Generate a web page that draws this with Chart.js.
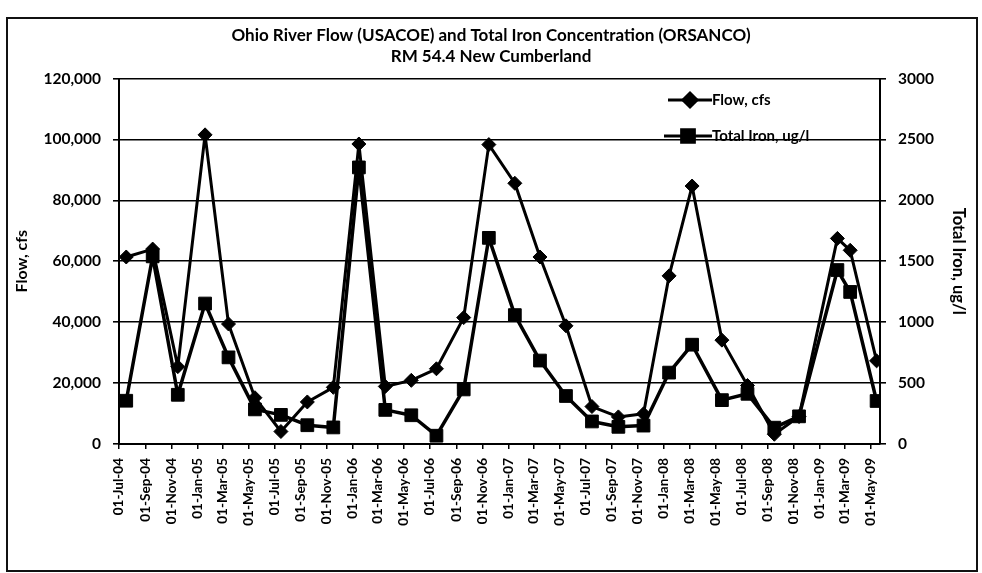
<!DOCTYPE html>
<html>
<head>
<meta charset="utf-8">
<script src="https://cdn.jsdelivr.net/npm/chart.js@4"></script>
<style>
  html, body { margin: 0; padding: 0; background: #fff; }
  #wrap { width: 982px; height: 573px; position: relative; }
</style>
</head>
<body>
<div id="wrap"><canvas id="c" width="982" height="573"></canvas></div>
<script>
// ---- data ----
const tickLabels = ['01-Jul-04','01-Sep-04','01-Nov-04','01-Jan-05','01-Mar-05','01-May-05','01-Jul-05','01-Sep-05','01-Nov-05','01-Jan-06','01-Mar-06','01-May-06','01-Jul-06','01-Sep-06','01-Nov-06','01-Jan-07','01-Mar-07','01-May-07','01-Jul-07','01-Sep-07','01-Nov-07','01-Jan-08','01-Mar-08','01-May-08','01-Jul-08','01-Sep-08','01-Nov-08','01-Jan-09','01-Mar-09','01-May-09'];

const sampleDates = ['2004-07-18','2004-09-18','2004-11-16','2005-01-19','2005-03-15','2005-05-16','2005-07-16','2005-09-16','2005-11-16','2006-01-15','2006-03-18','2006-05-18','2006-07-16','2006-09-18','2006-11-16','2007-01-16','2007-03-16','2007-05-16','2007-07-16','2007-09-16','2007-11-14','2008-01-13','2008-03-07','2008-05-16','2008-07-15','2008-09-16','2008-11-13','2009-02-11','2009-03-13','2009-05-14'];

const flowCfs = [61400,64000,25400,101500,39400,15200,4100,13800,18600,98500,18900,20900,24700,41500,98300,85600,61400,38800,12300,8900,9900,55200,84700,34100,19200,3200,9000,67500,63600,27300];

const ironUgL = [355,1540,404,1153,711,284,239,154,136,2270,280,236,68,448,1692,1058,685,394,185,141,151,586,815,360,412,134,227,1428,1248,353];

const titleLines = ['Ohio River Flow (USACOE) and Total Iron Concentration (ORSANCO)', 'RM 54.4 New Cumberland'];
const seriesNames = ['Flow, cfs', 'Total Iron, ug/l'];
const axisRange = { startDate: '2004-07-01', endDate: '2009-05-22' };

// ---- helpers ----
const MONTHS = {Jan:0,Feb:1,Mar:2,Apr:3,May:4,Jun:5,Jul:6,Aug:7,Sep:8,Oct:9,Nov:10,Dec:11};
const isoDay = s => Date.UTC(+s.slice(0,4), +s.slice(5,7) - 1, +s.slice(8,10)) / 86400000;
const labelDay = s => { const p = s.split('-'); return Date.UTC(2000 + +p[2], MONTHS[p[1]], +p[0]) / 86400000; };
const tickDays = tickLabels.map(labelDay);

const FONT = 'Lato, "Open Sans", "DejaVu Sans", sans-serif';
Chart.defaults.font.family = FONT;
Chart.defaults.color = '#000';

const frame = {
  id: 'frame',
  beforeDraw(chart) {
    const ctx = chart.ctx;
    ctx.save();
    ctx.fillStyle = '#fff';
    ctx.fillRect(0, 0, chart.width, chart.height);
    ctx.strokeStyle = '#111';
    ctx.lineWidth = 2;
    ctx.strokeRect(7, 18, 970, 553);
    ctx.restore();
  }
};

const innerLegend = {
  id: 'innerLegend',
  afterDatasetsDraw(chart) {
    const ctx = chart.ctx;
    const items = [
      { y: 100, style: 'rectRot', r: 7, x0: 668, x1: 712, label: seriesNames[0] },
      { y: 136, style: 'rect', r: 9, x0: 664, x1: 712, label: seriesNames[1] }
    ];
    ctx.save();
    items.forEach(it => {
      ctx.strokeStyle = '#000';
      ctx.lineWidth = 3;
      ctx.beginPath();
      ctx.moveTo(it.x0, it.y);
      ctx.lineTo(it.x1, it.y);
      ctx.stroke();
      ctx.fillStyle = '#000';
      Chart.helpers.drawPoint(ctx, { pointStyle: it.style, radius: it.r, rotation: 0, borderWidth: 1 }, (it.x0 + it.x1) / 2, it.y);
      ctx.fill();
      ctx.font = 'bold 15px ' + FONT;
      ctx.textBaseline = 'middle';
      ctx.textAlign = 'left';
      ctx.fillText(it.label, it.x1, it.y);
    });
    ctx.restore();
  }
};

const points = (ys) => sampleDates.map((d, i) => ({ x: isoDay(d), y: ys[i] }));

new Chart(document.getElementById('c'), {
  type: 'line',
  data: {
    datasets: [
      {
        label: seriesNames[0],
        data: points(flowCfs),
        yAxisID: 'yFlow',
        borderColor: '#000',
        backgroundColor: '#000',
        borderWidth: 3,
        borderJoinStyle: 'round',
        borderCapStyle: 'round',
        pointStyle: 'rectRot',
        pointRadius: 7,
        pointBorderWidth: 1,
        tension: 0
      },
      {
        label: seriesNames[1],
        data: points(ironUgL),
        yAxisID: 'yIron',
        borderColor: '#000',
        backgroundColor: '#000',
        borderWidth: 3.5,
        borderJoinStyle: 'round',
        borderCapStyle: 'round',
        pointStyle: 'rect',
        pointRadius: 9,
        pointBorderWidth: 1,
        tension: 0
      }
    ]
  },
  options: {
    responsive: false,
    animation: false,
    devicePixelRatio: 1,
    layout: { padding: { top: 25, left: 0, right: 0, bottom: 0 } },
    plugins: {
      legend: { display: false },
      tooltip: { enabled: false },
      title: {
        display: true,
        text: titleLines,
        font: { size: 17, weight: 'bold', family: FONT, lineHeight: 1.25 },
        color: '#000',
        padding: { top: 0, bottom: 11 }
      }
    },
    scales: {
      x: {
        type: 'linear',
        min: isoDay(axisRange.startDate),
        max: isoDay(axisRange.endDate),
        afterBuildTicks: (s) => { s.ticks = tickDays.map(v => ({ value: v })); },
        afterFit: (s) => { s.height = 129; },
        ticks: {
          autoSkip: false,
          minRotation: 90,
          maxRotation: 90,
          padding: 9,
          font: { size: 13.5, weight: 'bold' },
          callback: (v, i) => tickLabels[i]
        },
        grid: { drawOnChartArea: false, drawTicks: true, tickLength: 5, color: '#000', lineWidth: 1.5 },
        border: { display: true, color: '#000', width: 2 }
      },
      yFlow: {
        position: 'left',
        min: 0,
        max: 120000,
        afterFit: (s) => { s.width = 119; },
        ticks: {
          stepSize: 20000,
          padding: 12,
          font: { size: 15.5, weight: 'bold' },
          callback: (v) => v.toLocaleString('en-US')
        },
        grid: { color: '#000', lineWidth: 1.6, tickLength: 6 },
        border: { display: true, color: '#000', width: 2 },
        title: { display: true, text: 'Flow, cfs', font: { size: 16, weight: 'bold' }, padding: { top: 12, bottom: 0 } }
      },
      yIron: {
        position: 'right',
        min: 0,
        max: 3000,
        afterFit: (s) => { s.width = 102; },
        ticks: {
          stepSize: 500,
          padding: 12,
          font: { size: 15.5, weight: 'bold' },
          callback: (v) => String(v)
        },
        grid: { drawOnChartArea: false, color: '#000', lineWidth: 1.6, tickLength: 6 },
        border: { display: true, color: '#000', width: 2 },
        title: { display: true, text: 'Total Iron, ug/l', font: { size: 16.5, weight: 'bold' }, padding: { top: 14, bottom: 0 } }
      }
    }
  },
  plugins: [frame, innerLegend]
});
</script>
</body>
</html>
